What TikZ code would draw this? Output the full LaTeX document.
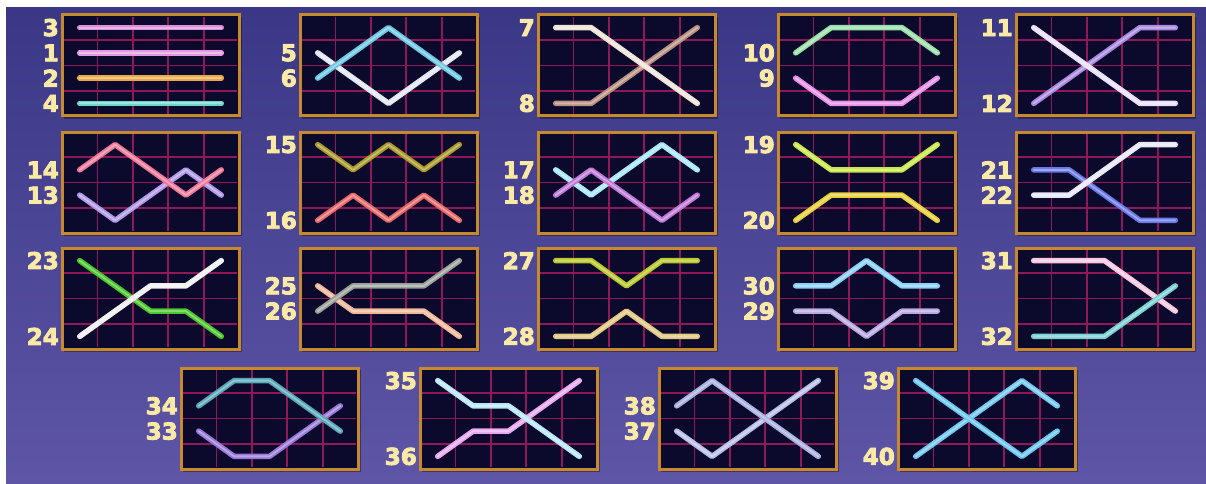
\documentclass[tikz,border=0pt]{standalone}
\usepackage{fontspec}
\setmainfont{Liberation Sans}
\newfontfamily\numfont{DejaVu Sans}
\usepackage{tikz}

% colours of the board
\definecolor{bgtop}{HTML}{3A3886}
\definecolor{bgbot}{HTML}{5E55A6}
\definecolor{gridbg}{HTML}{0B0A2C}
\definecolor{gridcol}{HTML}{8E1858}
\definecolor{framecol}{HTML}{C8882C}
\definecolor{labelcol}{HTML}{FBE9A6}

% colours of the paylines
\definecolor{pl1}{HTML}{E49AE2}
\definecolor{pl2}{HTML}{EAAA4A}
\definecolor{pl3}{HTML}{D88ED8}
\definecolor{pl4}{HTML}{6AD8C8}
\definecolor{pl5}{HTML}{E2E8F2}
\definecolor{pl6}{HTML}{6CC8E2}
\definecolor{pl7}{HTML}{F0E4D8}
\definecolor{pl8}{HTML}{B89080}
\definecolor{pl9}{HTML}{E890E8}
\definecolor{pl10}{HTML}{98E0A8}
\definecolor{pl11}{HTML}{E8E0F8}
\definecolor{pl12}{HTML}{A888E0}
\definecolor{pl13}{HTML}{B098E8}
\definecolor{pl14}{HTML}{F07898}
\definecolor{pl15}{HTML}{A89828}
\definecolor{pl16}{HTML}{E86868}
\definecolor{pl17}{HTML}{A8E8F8}
\definecolor{pl18}{HTML}{C078D8}
\definecolor{pl19}{HTML}{C8E848}
\definecolor{pl20}{HTML}{E8D038}
\definecolor{pl21}{HTML}{6878E8}
\definecolor{pl22}{HTML}{E8E8F8}
\definecolor{pl23}{HTML}{48C828}
\definecolor{pl24}{HTML}{F0F0F0}
\definecolor{pl25}{HTML}{F0B898}
\definecolor{pl26}{HTML}{98A098}
\definecolor{pl27}{HTML}{B8C828}
\definecolor{pl28}{HTML}{E0C880}
\definecolor{pl29}{HTML}{B8A8E0}
\definecolor{pl30}{HTML}{88D0F8}
\definecolor{pl31}{HTML}{F8C8E0}
\definecolor{pl32}{HTML}{78D0D0}
\definecolor{pl33}{HTML}{9878D8}
\definecolor{pl34}{HTML}{58A8B8}
\definecolor{pl35}{HTML}{B8E8F8}
\definecolor{pl36}{HTML}{E8A8F0}
\definecolor{pl37}{HTML}{B8C0E8}
\definecolor{pl38}{HTML}{A8B0E0}
\definecolor{pl39}{HTML}{68C8F0}
\definecolor{pl40}{HTML}{70C8F0}

\tikzset{
  payline/.style={line width=5.5pt, line cap=round, line join=round},
  payshine/.style={line width=1.8pt, line cap=round, line join=round, white, opacity=0.35},
  boxshadow/.style={fill=black, opacity=0.35},
  boxfill/.style={fill=gridbg},
  boxframe/.style={draw=framecol, line width=3pt},
  gridline/.style={draw=gridcol, line width=1.8pt},
  numlabel/.style={anchor=east, text=labelcol, inner sep=0pt, xshift=-3pt,
    font=\numfont\fontsize{23}{23}\bfseries\selectfont}
}

% heavy digits
\newcommand{\heavy}[1]{\special{pdf:literal direct 2 Tr 0.9 w}#1\special{pdf:literal direct 0 Tr}}

% one payline through the five reels, rows counted from the top
\newcommand{\pline}[6]{%
  \draw[payline, draw=#1] (0,#2) -- (1,#3) -- (2,#4) -- (3,#5) -- (4,#6);
  \draw[payshine] (0,#2) -- (1,#3) -- (2,#4) -- (3,#5) -- (4,#6);}

% number beside a row
\newcommand{\plabel}[2]{\node[numlabel] (n#1) at (-0.5,#2) {\heavy{#1}};}

% a 5x4 board at (x,y) with its lines and numbers
\newcommand{\pbox}[3]{%
  \begin{scope}[shift={(#1,#2)}]
    \fill[boxshadow] (2,2) rectangle (180,104);
    \fill[boxfill] (0,0) rectangle (177,101);
    \foreach \gx in {1,...,4} \draw[gridline] (\gx*35.4,2) -- (\gx*35.4,99);
    \foreach \gy in {1,2,3} \draw[gridline] (2,\gy*25.25) -- (175,\gy*25.25);
    \draw[boxframe] (0,0) rectangle (177,101);
    \begin{scope}[x=35.4pt, y=-25.25pt, shift={(0.5,0.5)}]
      #3
    \end{scope}
  \end{scope}}

\begin{document}
\begin{tikzpicture}[x=1pt, y=-1pt]

\useasboundingbox (0,0) rectangle (1206,484);
\fill[white] (0,0) rectangle (1206,484);

% Background
\shade[top color=bgtop, bottom color=bgbot] (6,8) rectangle (1206,484);

% Row 1
\pbox{62}{15}{
  \pline{pl3}{0}{0}{0}{0}{0}
  \pline{pl1}{1}{1}{1}{1}{1}
  \pline{pl2}{2}{2}{2}{2}{2}
  \pline{pl4}{3}{3}{3}{3}{3}
  \plabel{3}{0} \plabel{1}{1} \plabel{2}{2} \plabel{4}{3}}
\pbox{300}{15}{
  \pline{pl5}{1}{2}{3}{2}{1}
  \pline{pl6}{2}{1}{0}{1}{2}
  \plabel{5}{1} \plabel{6}{2}}
\pbox{538}{15}{
  \pline{pl8}{3}{3}{2}{1}{0}
  \pline{pl7}{0}{0}{1}{2}{3}
  \plabel{7}{0} \plabel{8}{3}}
\pbox{778}{15}{
  \pline{pl10}{1}{0}{0}{0}{1}
  \pline{pl9}{2}{3}{3}{3}{2}
  \plabel{10}{1} \plabel{9}{2}}
\pbox{1016}{15}{
  \pline{pl12}{3}{2}{1}{0}{0}
  \pline{pl11}{0}{1}{2}{3}{3}
  \plabel{11}{0} \plabel{12}{3}}

% Row 2
\pbox{62}{132}{
  \pline{pl13}{2}{3}{2}{1}{2}
  \pline{pl14}{1}{0}{1}{2}{1}
  \plabel{14}{1} \plabel{13}{2}}
\pbox{300}{132}{
  \pline{pl15}{0}{1}{0}{1}{0}
  \pline{pl16}{3}{2}{3}{2}{3}
  \plabel{15}{0} \plabel{16}{3}}
\pbox{538}{132}{
  \pline{pl17}{1}{2}{1}{0}{1}
  \pline{pl18}{2}{1}{2}{3}{2}
  \plabel{17}{1} \plabel{18}{2}}
\pbox{778}{132}{
  \pline{pl19}{0}{1}{1}{1}{0}
  \pline{pl20}{3}{2}{2}{2}{3}
  \plabel{19}{0} \plabel{20}{3}}
\pbox{1016}{132}{
  \pline{pl21}{1}{1}{2}{3}{3}
  \pline{pl22}{2}{2}{1}{0}{0}
  \plabel{21}{1} \plabel{22}{2}}

% Row 3
\pbox{62}{248}{
  \pline{pl23}{0}{1}{2}{2}{3}
  \pline{pl24}{3}{2}{1}{1}{0}
  \plabel{23}{0} \plabel{24}{3}}
\pbox{300}{248}{
  \pline{pl25}{1}{2}{2}{2}{3}
  \pline{pl26}{2}{1}{1}{1}{0}
  \plabel{25}{1} \plabel{26}{2}}
\pbox{538}{248}{
  \pline{pl27}{0}{0}{1}{0}{0}
  \pline{pl28}{3}{3}{2}{3}{3}
  \plabel{27}{0} \plabel{28}{3}}
\pbox{778}{248}{
  \pline{pl30}{1}{1}{0}{1}{1}
  \pline{pl29}{2}{2}{3}{2}{2}
  \plabel{30}{1} \plabel{29}{2}}
\pbox{1016}{248}{
  \pline{pl31}{0}{0}{0}{1}{2}
  \pline{pl32}{3}{3}{3}{2}{1}
  \plabel{31}{0} \plabel{32}{3}}

% Row 4
\pbox{181}{368}{
  \pline{pl33}{2}{3}{3}{2}{1}
  \pline{pl34}{1}{0}{0}{1}{2}
  \plabel{34}{1} \plabel{33}{2}}
\pbox{420}{368}{
  \pline{pl36}{3}{2}{2}{1}{0}
  \pline{pl35}{0}{1}{1}{2}{3}
  \plabel{35}{0} \plabel{36}{3}}
\pbox{659}{368}{
  \pline{pl37}{2}{3}{2}{1}{0}
  \pline{pl38}{1}{0}{1}{2}{3}
  \plabel{38}{1} \plabel{37}{2}}
\pbox{898}{368}{
  \pline{pl40}{3}{2}{1}{0}{1}
  \pline{pl39}{0}{1}{2}{3}{2}
  \plabel{39}{0} \plabel{40}{3}}

\end{tikzpicture}
\end{document}
